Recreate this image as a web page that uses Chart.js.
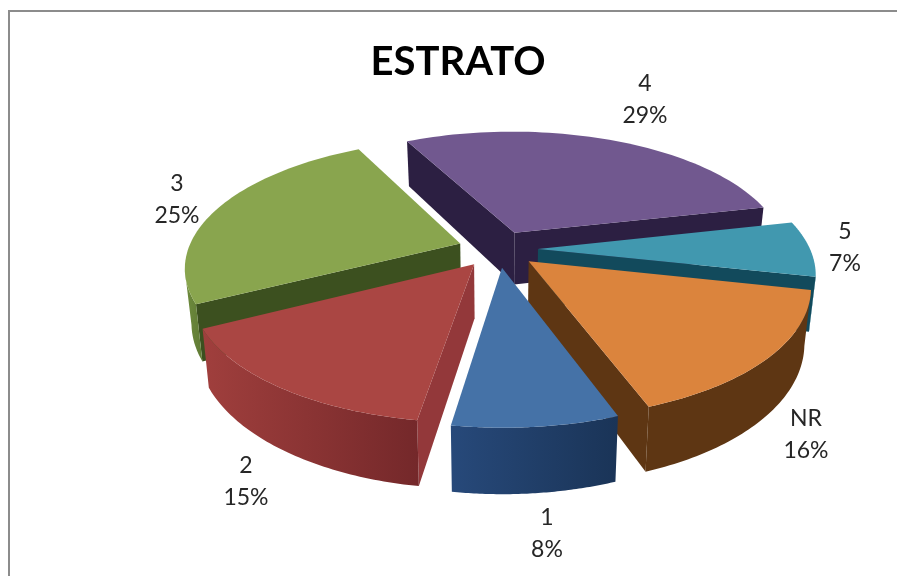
<!DOCTYPE html>
<html>
<head>
<meta charset="utf-8">
<title>ESTRATO</title>
<script src="https://cdn.jsdelivr.net/npm/chart.js@4"></script>
<style>
  html, body { margin: 0; background: #fff; }
  canvas { display: block; }
</style>
</head>
<body>
<canvas id="chart" width="897" height="576"></canvas>
<script>
const categories = ["1", "2", "3", "4", "5", "NR"];
const percents = [8, 15, 25, 29, 7, 16];

const topColors = ["#4572a7", "#aa4643", "#89a54e", "#71588f", "#4198af", "#db843d"];
const wallLeft = ["#27497a", "#a03f3d", "#6f8c3e", "#3c2c55", "#2c7f96", "#5e3613"];
const wallRight = ["#1a3457", "#74282a", "#5f7a34", "#2c1f42", "#276f84", "#5e3613"];
const faceColors = ["#1f3c63", "#93383a", "#3c501f", "#2c1f42", "#124a5c", "#5e3613"];

// perspective settings, tuned by eye
const view = { x: 498, y: 249, squash: 0.457, persp: 0.00065, depth: 53, explode: 40, narrow: 0.0004 };
const labelPos = [[547, 518], [246, 466], [177, 184], [645, 84], [845, 232], [806, 419]];

function project(u, v, drop) {
  const s = 1 / (1 - view.persp * v);
  return { x: view.x + u * s * (1 - view.narrow * drop), y: view.y + (view.squash * v + drop) * s };
}

// apex + rim points of one slice, drop is the distance under the top face
function sliceGeom(arc) {
  const mid = (arc.startAngle + arc.endAngle) / 2;
  const ox = Math.cos(mid) * view.explode;
  const oy = Math.sin(mid) * view.explode;
  const angles = [];
  for (let i = 0; i <= 60; i++) {
    angles.push(arc.startAngle + (arc.endAngle - arc.startAngle) * i / 60);
  }
  return {
    mid,
    apex: (drop) => project(ox, oy, drop),
    rim: angles.map((a) => (drop) => project(ox + Math.cos(a) * arc.outerRadius, oy + Math.sin(a) * arc.outerRadius, drop))
  };
}

function fillPath(ctx, pts, fill) {
  ctx.beginPath();
  pts.forEach((p, i) => (i ? ctx.lineTo(p.x, p.y) : ctx.moveTo(p.x, p.y)));
  ctx.closePath();
  ctx.fillStyle = fill;
  ctx.fill();
}

// a side is seen when going down the screen leaves the slice
function facesViewer(a, b, inside) {
  const cross = (p) => (b.x - a.x) * (p.y - a.y) - (b.y - a.y) * (p.x - a.x);
  return cross(inside) * cross({ x: a.x, y: a.y + 10 }) < 0;
}

function drawWalls(ctx, g, i) {
  const inside = g.rim[30](0);
  const edges = [g.rim[0], g.rim[g.rim.length - 1]];
  edges.forEach((edge) => {
    if (facesViewer(g.apex(0), edge(0), inside)) {
      fillPath(ctx, [g.apex(0), edge(0), edge(view.depth), g.apex(view.depth)], faceColors[i]);
    }
  });

  const seen = [];
  for (let k = 0; k < g.rim.length; k++) {
    if (k + 1 < g.rim.length && facesViewer(g.rim[k](0), g.rim[k + 1](0), g.apex(0))) {
      seen.push(g.rim[k]);
      if (k + 2 === g.rim.length || !facesViewer(g.rim[k + 1](0), g.rim[k + 2](0), g.apex(0))) seen.push(g.rim[k + 1]);
    }
  }
  if (seen.length < 2) return;
  const pts = seen.map((r) => r(0)).concat(seen.map((r) => r(view.depth)).reverse());
  const xs = pts.map((p) => p.x);
  const grad = ctx.createLinearGradient(Math.min(...xs), 0, Math.max(...xs), 0);
  grad.addColorStop(0, wallLeft[i]);
  grad.addColorStop(1, wallRight[i]);
  fillPath(ctx, pts, grad);
}

const pie3d = {
  id: "pie3d",
  beforeDraw(chart) {
    const ctx = chart.ctx;
    ctx.fillStyle = "#8c8c8c";
    ctx.fillRect(8, 10, 889, 2);
    ctx.fillRect(8, 10, 2, 566);
  },
  beforeDatasetsDraw(chart) {
    const ctx = chart.ctx;
    const arcs = chart.getDatasetMeta(0).data;
    const items = arcs.map((arc, i) => ({ i, g: sliceGeom(arc) }));
    items.sort((a, b) => Math.sin(a.g.mid) - Math.sin(b.g.mid));
    items.forEach((it) => drawWalls(ctx, it.g, it.i));
    items.forEach((it) => {
      fillPath(ctx, [it.g.apex(0)].concat(it.g.rim.map((r) => r(0))), topColors[it.i]);
    });
    return false;
  },
  afterDraw(chart) {
    const ctx = chart.ctx;
    ctx.font = '23px Lato';
    ctx.fillStyle = "#262626";
    ctx.textAlign = "center";
    ctx.textBaseline = "middle";
    categories.forEach((name, i) => {
      ctx.fillText(name, labelPos[i][0], labelPos[i][1]);
      ctx.fillText(percents[i] + "%", labelPos[i][0], labelPos[i][1] + 32);
    });
  }
};

new Chart(document.getElementById("chart"), {
  type: "pie",
  data: {
    labels: categories,
    datasets: [{ data: percents, backgroundColor: topColors, borderWidth: 0, radius: 272 }]
  },
  options: {
    responsive: false,
    animation: false,
    rotation: 160,
    layout: { padding: { left: 19 } },
    plugins: {
      legend: { display: false },
      tooltip: { enabled: false },
      title: {
        display: true,
        text: "ESTRATO",
        color: "#000",
        font: { family: "Lato", size: 40, weight: "bold" },
        padding: { top: 38, bottom: 0 }
      }
    }
  },
  plugins: [pie3d]
});
</script>
</body>
</html>
